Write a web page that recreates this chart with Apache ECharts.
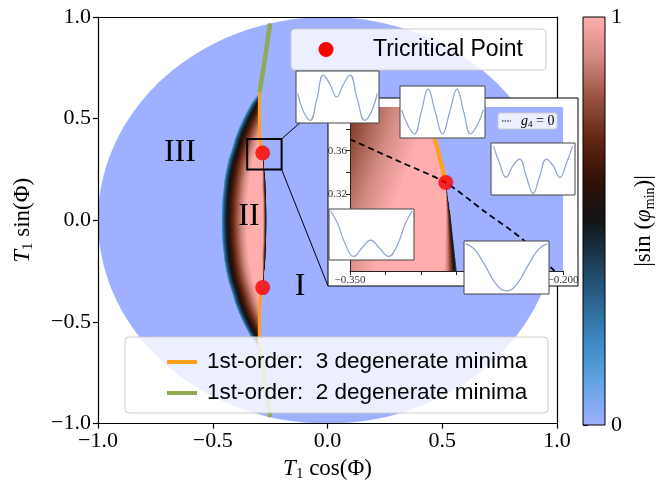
<!DOCTYPE html>
<html><head><meta charset="utf-8">
<script src="https://cdn.jsdelivr.net/npm/echarts@6/dist/echarts.min.js"></script>
<style>html,body{margin:0;padding:0;background:#fff}#c{width:658px;height:487px}</style>
</head><body><div id="c"></div>
<script>
// ================= DATA =================
const xTicks = [-1, -0.5, 0, 0.5, 1];
const yTicks = [-1, -0.5, 0, 0.5, 1];
const discRadius = 1;
// Region II (lens) boundaries, symmetric in y (given for |y|)
const lensY     = [0,      0.1,    0.2,    0.25,    0.3,    0.331,   0.37,   0.4,    0.45,   0.5,    0.55,   0.58,   0.63];
const lensLeft  = [-0.462, -0.459, -0.450, -0.442,  -0.432, -0.423,  -0.412, -0.405, -0.388, -0.368, -0.345, -0.330, -0.296];
const lensRight = [-0.265, -0.266, -0.270, -0.2746, -0.279, -0.2825, -0.290, -0.294, -0.296, -0.297, -0.297, -0.297, -0.296];
const tricriticalX = [-0.2825, -0.2825];
const tricriticalY = [0.331, -0.331];
const green2X = [-0.296, -0.272, -0.25];
const green2Y = [0.63, 0.80, 0.968];
const regionNames = ['III', 'II', 'I'];
const regionX = [-0.643, -0.342, -0.12];
const regionY = [0.333, 0.02, -0.328];
// inset
const insetXRange = [-0.35, -0.2];
const insetYRange = [0.25, 0.40];
const insetXTicks = [-0.35, -0.325, -0.3, -0.275, -0.25, -0.225, -0.2];
const insetXLabels = [-0.35, -0.2];
const insetYTicks = [0.32, 0.34, 0.36, 0.38];
const insetYLabels = [0.32, 0.36];
const g4X = [-0.35, -0.3164, -0.2825, -0.2557, -0.2289, -0.2078, -0.19];
const g4Y = [0.3705, 0.3508, 0.3306, 0.3049, 0.2794, 0.2523, 0.229];
const colorbarTicks = [0, 1];
// potential shapes shown in the small boxes (normalised box coordinates)
const wave1 = [[0.02,0.57],[0.09,0.22],[0.17,0.05],[0.25,0.45],[0.33,0.92],[0.41,0.74],[0.49,0.5],[0.57,0.74],[0.65,0.92],[0.74,0.45],[0.83,0.05],[0.91,0.22],[0.98,0.57]];
const wave2 = [[0.02,0.54],[0.09,0.25],[0.17,0.08],[0.25,0.5],[0.33,0.94],[0.415,0.5],[0.5,0.08],[0.585,0.5],[0.67,0.94],[0.75,0.5],[0.83,0.08],[0.91,0.25],[0.98,0.54]];
const wave3 = [[0.03,0.94],[0.1,0.62],[0.18,0.34],[0.26,0.56],[0.34,0.69],[0.42,0.36],[0.5,0.03],[0.58,0.36],[0.66,0.69],[0.74,0.56],[0.82,0.34],[0.9,0.62],[0.97,0.94]];
const wave4 = [[0.02,0.96],[0.1,0.72],[0.2,0.28],[0.29,0.07],[0.39,0.24],[0.49,0.39],[0.59,0.24],[0.7,0.07],[0.8,0.28],[0.9,0.72],[0.98,0.96]];
const wave5 = [[0.02,0.95],[0.12,0.85],[0.25,0.53],[0.38,0.18],[0.5,0.06],[0.62,0.18],[0.75,0.53],[0.88,0.85],[0.98,0.95]];
const waves = [wave1, wave2, wave3, wave4, wave5];

// ================= STYLE =================
const ORANGE = '#ff9f1a', GREEN = '#90a955', WAVE = '#8aa2d2';
const SERIF = 'Liberation Serif', SANS = 'Liberation Sans';
const wavePos = [[296,71,83,52],[400,86,85,52],[491,143,84,52],[329,209,85,51],[464,241,85,53]];
const insetFrame = [328, 98, 250, 188];
// shading of the region-II field (rendering parameters)
const RISE_W = 0.11, RISE_P = 0.45, EDGE_W = 0.017, EDGE_RAMP = 0.15;

const CM = [[0,[158,176,255]],[0.1,[100,164,232]],[0.2,[62,138,196]],[0.3,[42,102,146]],[0.4,[28,62,86]],
            [0.5,[17,20,22]],[0.6,[50,16,6]],[0.7,[98,38,18]],[0.8,[152,82,64]],[0.9,[210,138,130]],[1,[255,173,173]]];
function cmap(v){
  v = Math.max(0, Math.min(1, v));
  for (let i = 1; i < CM.length; i++) {
    if (v <= CM[i][0]) {
      const t = (v - CM[i-1][0]) / (CM[i][0] - CM[i-1][0]);
      const a = CM[i-1][1], b = CM[i][1];
      return 'rgb(' + [0,1,2].map(k => Math.round(a[k] + t*(b[k]-a[k]))).join(',') + ')';
    }
  }
  return 'rgb(255,173,173)';
}
function interp(xs, ys, x){
  if (x <= xs[0]) return ys[0];
  for (let i = 1; i < xs.length; i++) if (x <= xs[i]) { const t = (x-xs[i-1])/(xs[i]-xs[i-1]); return ys[i-1] + t*(ys[i]-ys[i-1]); }
  return ys[ys.length-1];
}
const tcY = tricriticalY[0];
function edgeWidth(ay){ return ay < tcY ? EDGE_W*Math.min(1,(tcY-ay)/EDGE_RAMP) : 0; }
function fieldValue(x, ay, L, R){
  let v = Math.pow(Math.max(0, x-L)/RISE_W, RISE_P);
  const ew = edgeWidth(ay);
  if (ew > 0) v = Math.min(v, Math.pow(Math.max(0, R-x)/ew, 0.365));
  return Math.min(1, v);
}
function clipOf(params){ const c = params.coordSys; return {type:'rect', shape:{x:c.x, y:c.y, width:c.width, height:c.height}}; }

function renderDisc(clip){
  return function(params, api){
    const c = api.coord([0,0]);
    const s = api.size([discRadius, discRadius]);
    const el = {type:'ellipse', shape:{cx:c[0], cy:c[1], rx:s[0], ry:s[1]}, style:{fill:cmap(0)}, silent:true};
    return clip ? {type:'group', clipPath: clipOf(params), children:[el]} : el;
  };
}
function renderLens(clip){
  return function(params, api){
    const children = [];
    const yTop = lensY[lensY.length-1];
    const step = 0.004;
    for (let y0 = -yTop; y0 < yTop - 1e-9; y0 += step) {
      const y1 = Math.min(y0 + step, yTop);
      const a0 = Math.abs(y0), a1 = Math.abs(y1), ym = (y0+y1)/2, am = Math.abs(ym);
      const L0 = interp(lensY, lensLeft, a0), R0 = interp(lensY, lensRight, a0);
      const L1 = interp(lensY, lensLeft, a1), R1 = interp(lensY, lensRight, a1);
      const Lm = interp(lensY, lensLeft, am), Rm = interp(lensY, lensRight, am);
      if (Rm - Lm < 1e-5) continue;
      const p0 = api.coord([L0,y0]), p1 = api.coord([R0,y0]), p2 = api.coord([R1,y1]), p3 = api.coord([L1,y1]);
      p0[1] += 0.6; p1[1] += 0.6; p2[1] -= 0.6; p3[1] -= 0.6;
      const xa = api.coord([Lm,ym])[0], xb = api.coord([Rm,ym])[0];
      const W = Rm - Lm, offs = new Set();
      for (let k = 0; k <= 40; k++) offs.add(+(k/40).toFixed(4));
      const ew = edgeWidth(am);
      for (let k = 0; k <= 16; k++) {
        const f1 = RISE_W*Math.pow(k/16, 1/RISE_P)/W; if (f1 <= 1) offs.add(+f1.toFixed(4));
        if (ew > 0) { const f2 = 1 - ew*Math.pow(k/16, 1/0.365)/W; if (f2 >= 0) offs.add(+f2.toFixed(4)); }
      }
      const stops = Array.from(offs).sort((a,b)=>a-b).map(f => ({offset:f, color:cmap(fieldValue(Lm + f*W, am, Lm, Rm))}));
      children.push({type:'polygon', silent:true, shape:{points:[p0,p1,p2,p3]},
        style:{fill:{type:'linear', x:xa, y:0, x2:xb, y2:0, global:true, colorStops:stops}}});
    }
    const g = {type:'group', children};
    if (clip) g.clipPath = clipOf(params);
    return g;
  };
}

const tricritical = tricriticalX.map((x,i)=>[x, tricriticalY[i]]);
const orangeUpper = lensY.map((y,i)=>[lensRight[i], y]).filter(p => p[1] >= tcY);
const orangeLower = orangeUpper.map(p => [p[0], -p[1]]);
const greenUpper = green2X.map((x,i)=>[x, green2Y[i]]);
const greenLower = greenUpper.map(p => [p[0], -p[1]]);
const g4 = g4X.map((x,i)=>[x, g4Y[i]]);

const minus = s => s.replace('-', '\u2212');
const mainLabel = v => minus(v.toFixed(1));

const hiddenAxis = (gi, extra) => Object.assign({gridIndex:gi, type:'value', show:false, min:0, max:1}, extra||{});

const xAxes = [
  {gridIndex:0, type:'value', min:xTicks[0], max:xTicks[xTicks.length-1], interval:xTicks[1]-xTicks[0], z:5,
   axisLine:{show:true, onZero:false, lineStyle:{color:'#000', width:1.2}},
   axisTick:{show:true, length:5, lineStyle:{color:'#000', width:1.2}},
   axisLabel:{formatter:mainLabel, fontFamily:SERIF, fontSize:22, color:'#000', margin:7},
   splitLine:{show:false},
   name:'{t|T}{s|1}{r| cos(Φ)}', nameLocation:'middle', nameGap:24,
   nameTextStyle:{rich:{t:{fontFamily:SERIF, fontStyle:'italic', fontSize:23, color:'#000', lineHeight:26},
                        s:{fontFamily:SERIF, fontSize:15, color:'#000', verticalAlign:'bottom', lineHeight:15},
                        r:{fontFamily:SERIF, fontSize:23, color:'#000', lineHeight:26}}}},
  {gridIndex:0, type:'value', position:'top', min:-1, max:1, z:5, axisLine:{show:true, onZero:false, lineStyle:{color:'#000', width:1.2}},
   axisTick:{show:false}, axisLabel:{show:false}, splitLine:{show:false}},
  {gridIndex:1, type:'value', min:insetXRange[0], max:insetXRange[1], z:13,
   axisLine:{show:true, onZero:false, lineStyle:{color:'#222', width:1}},
   axisTick:{show:true, length:4, customValues:insetXTicks, lineStyle:{color:'#222', width:1}},
   axisLabel:{customValues:insetXLabels, formatter:v=>minus(v.toFixed(3)), fontFamily:SERIF, fontSize:11, color:'#333', margin:4},
   splitLine:{show:false}},
  hiddenAxis(2)
];
const yAxes = [
  {gridIndex:0, type:'value', min:yTicks[0], max:yTicks[yTicks.length-1], interval:yTicks[1]-yTicks[0], z:5,
   axisLine:{show:true, onZero:false, lineStyle:{color:'#000', width:1.2}},
   axisTick:{show:true, length:5, lineStyle:{color:'#000', width:1.2}},
   axisLabel:{formatter:mainLabel, fontFamily:SERIF, fontSize:22, color:'#000', margin:7},
   splitLine:{show:false},
   name:'{t|T}{s|1}{r| sin(Φ)}', nameLocation:'middle', nameGap:62,
   nameTextStyle:{rich:{t:{fontFamily:SERIF, fontStyle:'italic', fontSize:23, color:'#000', lineHeight:26},
                        s:{fontFamily:SERIF, fontSize:15, color:'#000', verticalAlign:'bottom', lineHeight:15},
                        r:{fontFamily:SERIF, fontSize:23, color:'#000', lineHeight:26}}}},
  {gridIndex:0, type:'value', position:'right', min:-1, max:1, z:5, axisLine:{show:true, onZero:false, lineStyle:{color:'#000', width:1.2}},
   axisTick:{show:false}, axisLabel:{show:false}, splitLine:{show:false}},
  {gridIndex:1, type:'value', min:insetYRange[0], max:insetYRange[1], z:13,
   axisLine:{show:true, onZero:false, lineStyle:{color:'#222', width:1}},
   axisTick:{show:true, length:4, customValues:insetYTicks, lineStyle:{color:'#222', width:1}},
   axisLabel:{customValues:insetYLabels, formatter:v=>v.toFixed(2), fontFamily:SERIF, fontSize:11, color:'#333', margin:3},
   splitLine:{show:false}},
  {gridIndex:2, type:'value', position:'right', min:colorbarTicks[0], max:colorbarTicks[1], interval:1,
   axisLine:{show:false}, axisTick:{show:true, length:5, lineStyle:{color:'#000', width:1}},
   axisLabel:{fontFamily:SERIF, fontSize:22, color:'#000', margin:6}, splitLine:{show:false},
   name:'{a||sin (}{p|φ}{s|min}{a|)|}', nameLocation:'middle', nameGap:26,
   nameTextStyle:{rich:{a:{fontFamily:SERIF, fontSize:23, color:'#000', lineHeight:26},
                        p:{fontFamily:SERIF, fontStyle:'italic', fontSize:23, color:'#000', lineHeight:26},
                        s:{fontFamily:SERIF, fontSize:14, color:'#000', verticalAlign:'bottom', lineHeight:14}}}}
];
const grids = [
  {left:98, top:17, width:459, height:408, z:0},
  {left:350, top:107, width:213, height:164, z:9},
  {left:583, top:17, width:27, height:408, z:0}
];
waves.forEach((w,i) => {
  const p = wavePos[i];
  grids.push({left:p[0], top:p[1], width:p[2], height:p[3], show:true, backgroundColor:'#fff', borderColor:'#444', borderWidth:1, z:20});
  xAxes.push(hiddenAxis(3+i));
  yAxes.push(hiddenAxis(3+i));
});

const series = [
  {type:'custom', xAxisIndex:0, yAxisIndex:0, z:1, data:[[0,0]], renderItem:renderDisc(false), silent:true},
  {type:'custom', xAxisIndex:0, yAxisIndex:0, z:2, data:[[0,0]], renderItem:renderLens(false), silent:true},
  {type:'line', name:'1st-order: 3 degenerate minima', xAxisIndex:0, yAxisIndex:0, z:3, data:orangeUpper, symbol:'none', lineStyle:{color:ORANGE, width:3}},
  {type:'line', name:'1st-order: 3 degenerate minima', xAxisIndex:0, yAxisIndex:0, z:3, data:orangeLower, symbol:'none', lineStyle:{color:ORANGE, width:3}},
  {type:'line', name:'1st-order: 2 degenerate minima', xAxisIndex:0, yAxisIndex:0, z:3, data:greenUpper, symbol:'none', lineStyle:{color:GREEN, width:4.5}},
  {type:'line', name:'1st-order: 2 degenerate minima', xAxisIndex:0, yAxisIndex:0, z:3, data:greenLower, symbol:'none', lineStyle:{color:GREEN, width:4.5}},
  {type:'scatter', name:'Tricritical Point', xAxisIndex:0, yAxisIndex:0, z:4, data:tricritical, symbolSize:15, itemStyle:{color:'#ff0000'}},
  {type:'custom', xAxisIndex:0, yAxisIndex:0, z:4, data:regionNames.map((n,i)=>[regionX[i], regionY[i], i]),
   renderItem:(params, api) => {
     const p = api.coord([api.value(0), api.value(1)]);
     return {type:'text', x:p[0], y:p[1], style:{text:regionNames[api.value(2)], fontFamily:SERIF, fontSize:32, fill:'#000', align:'center', verticalAlign:'middle'}};
   }},
  {type:'custom', xAxisIndex:0, yAxisIndex:0, z:7, data:[[0,0]], silent:true,
   renderItem:(params, api) => {
     const tl = api.coord([insetXRange[0], insetYRange[1]]), br = api.coord([insetXRange[1], insetYRange[0]]);
     const tr = [br[0], tl[1]];
     return {type:'group', children:[
       {type:'rect', shape:{x:tl[0], y:tl[1], width:br[0]-tl[0], height:br[1]-tl[1]}, style:{fill:null, stroke:'#000', lineWidth:2}},
       {type:'line', shape:{x1:tr[0], y1:tr[1], x2:insetFrame[0], y2:insetFrame[1]}, style:{stroke:'#000', lineWidth:1}},
       {type:'line', shape:{x1:br[0], y1:br[1], x2:insetFrame[0], y2:insetFrame[1]+insetFrame[3]}, style:{stroke:'#000', lineWidth:1}}
     ]};
   }},
  // inset
  {type:'custom', xAxisIndex:2, yAxisIndex:2, z:10, data:[[0,0]], renderItem:renderDisc(true), silent:true},
  {type:'custom', xAxisIndex:2, yAxisIndex:2, z:10, data:[[0,0]], renderItem:renderLens(true), silent:true},
  {type:'line', xAxisIndex:2, yAxisIndex:2, z:11, data:orangeUpper, symbol:'none', lineStyle:{color:ORANGE, width:4}},
  {type:'line', name:'g4 = 0', xAxisIndex:2, yAxisIndex:2, z:11, data:g4, symbol:'none', smooth:0.3, lineStyle:{color:'#000', width:1.8, type:[6,4]}},
  {type:'scatter', xAxisIndex:2, yAxisIndex:2, z:12, data:[tricritical[0]], symbolSize:15, itemStyle:{color:'#ff0000'}},
  // colorbar
  {type:'custom', xAxisIndex:3, yAxisIndex:3, z:2, data:[[0,0]], silent:true,
   renderItem:(params, api) => {
     const a = api.coord([0,1]), b = api.coord([1,0]);
     const stops = CM.map(s => ({offset:s[0], color:cmap(s[0])}));
     return {type:'rect', shape:{x:a[0], y:a[1], width:b[0]-a[0], height:b[1]-a[1]},
             style:{fill:{type:'linear', x:0, y:1, x2:0, y2:0, colorStops:stops}, stroke:'#000', lineWidth:1}};
   }}
];
waves.forEach((w,i) => {
  series.push({type:'line', xAxisIndex:4+i, yAxisIndex:4+i, z:21, data:w, symbol:'none', smooth:0.45, lineStyle:{color:WAVE, width:1.2}});
});

const graphics = [
  // top legend
  {type:'rect', z:6, shape:{x:291, y:29, width:255, height:41, r:4}, style:{fill:'rgba(255,255,255,0.8)', stroke:'#cccccc', lineWidth:1}},
  {type:'circle', z:7, shape:{cx:326, cy:49.5, r:7.5}, style:{fill:'#ff0000'}},
  {type:'text', z:7, x:373, y:50, style:{text:'Tricritical Point', fontFamily:SANS, fontSize:23, fill:'#000', verticalAlign:'middle'}},
  // bottom legend
  {type:'rect', z:6, shape:{x:125, y:337, width:423, height:76, r:4}, style:{fill:'rgba(255,255,255,0.8)', stroke:'#cccccc', lineWidth:1}},
  {type:'line', z:7, shape:{x1:167, y1:362, x2:197, y2:362}, style:{stroke:ORANGE, lineWidth:4}},
  {type:'line', z:7, shape:{x1:167, y1:393, x2:197, y2:393}, style:{stroke:GREEN, lineWidth:4}},
  {type:'text', z:7, x:207, y:362, style:{text:'1st-order:  3 degenerate minima', fontFamily:SANS, fontSize:22.5, fill:'#000', verticalAlign:'middle'}},
  {type:'text', z:7, x:207, y:393, style:{text:'1st-order:  2 degenerate minima', fontFamily:SANS, fontSize:22.5, fill:'#000', verticalAlign:'middle'}},
  // inset frame
  {type:'rect', z:8, shape:{x:insetFrame[0], y:insetFrame[1], width:insetFrame[2], height:insetFrame[3]}, style:{fill:'#fff', stroke:'#000', lineWidth:1}},
  // inset legend
  {type:'rect', z:14, shape:{x:498, y:113, width:59, height:16, r:2}, style:{fill:'rgba(255,255,255,0.8)', stroke:'#cccccc', lineWidth:1}},
  {type:'line', z:15, shape:{x1:502, y1:121, x2:511, y2:121}, style:{stroke:'#000', lineWidth:1.2, lineDash:[1.5,1.2]}},
  {type:'text', z:15, x:521, y:121, style:{text:'{i|g}{s|4}{n| = 0}', verticalAlign:'middle',
    rich:{i:{fontFamily:SERIF, fontStyle:'italic', fontSize:14, fill:'#000', lineHeight:16},
          s:{fontFamily:SERIF, fontSize:9, fill:'#000', verticalAlign:'bottom', lineHeight:10},
          n:{fontFamily:SERIF, fontSize:14, fill:'#000', lineHeight:16}}}}
];

const chart = echarts.init(document.getElementById('c'), null, {renderer:'canvas'});
chart.setOption({
  animation:false,
  backgroundColor:'#fff',
  textStyle:{fontFamily:SERIF},
  grid:grids, xAxis:xAxes, yAxis:yAxes, series:series,
  graphic:{elements:graphics}
});
</script>
</body></html>
